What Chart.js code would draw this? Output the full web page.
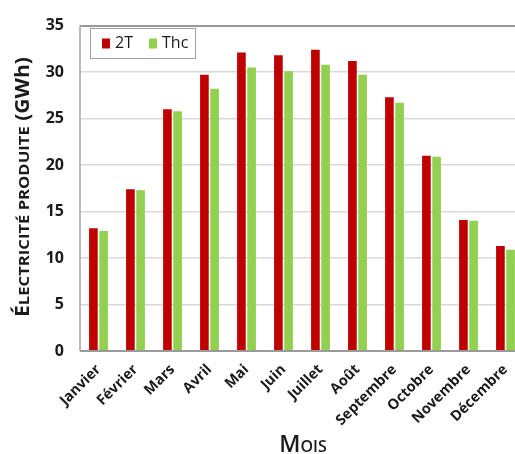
<!DOCTYPE html>
<html><head><meta charset="utf-8">
<script src="https://cdn.jsdelivr.net/npm/chart.js"></script>
<style>
html,body{margin:0;padding:0;background:#fff;}
#wrap{width:515px;height:454px;overflow:hidden;position:relative;background:#fff;}
canvas{display:block;}
</style>
</head><body>
<div id="wrap"><canvas id="c" width="530" height="454"></canvas></div>
<script>
const categories = ['Janvier','Février','Mars','Avril','Mai','Juin','Juillet','Août','Septembre','Octobre','Novembre','Décembre'];
const series2T  = [13.2, 17.4, 26.0, 29.7, 32.1, 31.8, 32.4, 31.2, 27.3, 21.0, 14.1, 11.3];
const seriesThc = [12.9, 17.3, 25.8, 28.2, 30.5, 30.1, 30.8, 29.7, 26.7, 20.9, 14.0, 10.9];
const seriesNames = ['2T', 'Thc'];
const yTickValues = [0, 5, 10, 15, 20, 25, 30, 35];

const FONT = '"Open Sans", Lato, sans-serif';

function drawParts(ctx, parts, startX, y, scaleX) {
  let px = startX;
  parts.forEach(p => {
    ctx.font = p[1];
    ctx.fillText(p[0], px, y);
    px += ctx.measureText(p[0]).width;
  });
}
function partsWidth(ctx, parts) {
  let t = 0;
  parts.forEach(p => { ctx.font = p[1]; t += ctx.measureText(p[0]).width; });
  return t;
}

const framePlugin = {
  id: 'frame',
  afterDraw(chart) {
    const ctx = chart.ctx;
    const a = chart.chartArea;
    ctx.save();
    ctx.strokeStyle = '#7f7f7f';
    ctx.lineWidth = 1.5;
    ctx.beginPath(); ctx.moveTo(a.left, a.top + 0.5); ctx.lineTo(a.right + 20, a.top + 0.5); ctx.stroke();
    ctx.strokeStyle = '#a6a6a6';
    ctx.lineWidth = 1.5;
    ctx.beginPath(); ctx.moveTo(a.left, a.top); ctx.lineTo(a.left, a.bottom); ctx.stroke();
    ctx.strokeStyle = '#9a9a9a';
    ctx.lineWidth = 2;
    ctx.beginPath(); ctx.moveTo(a.left, a.bottom); ctx.lineTo(a.right + 20, a.bottom); ctx.stroke();

    // legend
    const lx = 90, ly = 28, lw = 105, lh = 30;
    ctx.fillStyle = '#fff';
    ctx.fillRect(lx, ly, lw, lh);
    ctx.strokeStyle = '#a0a0a0';
    ctx.lineWidth = 1;
    ctx.strokeRect(lx + 0.5, ly + 0.5, lw, lh);
    ctx.font = '16px ' + FONT;
    ctx.textBaseline = 'middle';
    ctx.textAlign = 'left';
    const legendX = [102, 149];
    const cy = ly + lh / 2 + 0.5;
    chart.data.datasets.forEach((ds, i) => {
      const x = legendX[i];
      ctx.fillStyle = ds.backgroundColor;
      ctx.fillRect(x, cy - 5, 8, 10);
      ctx.fillStyle = '#1a1a1a';
      ctx.fillText(ds.label, x + 13, cy);
    });

    // y title (small caps style), fitted between y=57 and y=317
    const partsY = [['É', 'bold 19px ' + FONT], ['LECTRICITÉ PRODUITE', 'bold 15px ' + FONT], [' (GWh)', 'bold 19px ' + FONT]];
    ctx.save();
    ctx.fillStyle = '#1a1a1a';
    ctx.textBaseline = 'alphabetic';
    const totalY = partsWidth(ctx, partsY);
    const targetLen = 260;
    ctx.translate(29, 187);
    ctx.rotate(-Math.PI / 2);
    ctx.scale(targetLen / totalY, 1);
    drawParts(ctx, partsY, -totalY / 2, 0);
    ctx.restore();

    // x title
    const partsX = [['M', '600 23px ' + FONT], ['OIS', '600 16px ' + FONT]];
    ctx.save();
    ctx.textBaseline = 'alphabetic';
    ctx.fillStyle = '#1a1a1a';
    const totalX = partsWidth(ctx, partsX);
    drawParts(ctx, partsX, 303 - totalX / 2, 452);
    ctx.restore();
    ctx.restore();
  }
};

new Chart(document.getElementById('c'), {
  type: 'bar',
  data: {
    labels: categories,
    datasets: [
      { label: seriesNames[0], data: series2T, backgroundColor: '#C00000', borderWidth: 0 },
      { label: seriesNames[1], data: seriesThc, backgroundColor: '#92D050', borderWidth: 0 }
    ]
  },
  options: {
    responsive: false,
    animation: false,
    devicePixelRatio: 1,
    layout: { padding: { top: 21, right: 6, left: 0, bottom: 0 } },
    categoryPercentage: 0.55,
    barPercentage: 0.85,
    plugins: { legend: { display: false }, tooltip: { enabled: false }, title: { display: false } },
    scales: {
      x: {
        grid: { display: false, drawTicks: false },
        border: { display: false },
        ticks: {
          minRotation: 45, maxRotation: 45, autoSkip: false, padding: 10,
          color: '#1a1a1a', font: { family: FONT, size: 14.5, weight: 'bold' }
        },
        afterFit(scale) { scale.height = 103; }
      },
      y: {
        min: 0, max: 35,
        afterBuildTicks(scale) { scale.ticks = yTickValues.map(v => ({ value: v })); },
        grid: { color: '#d9d9d9', lineWidth: 1.5, drawTicks: false },
        border: { display: false },
        ticks: {
          padding: 16, color: '#1a1a1a',
          font: { family: FONT, size: 16, weight: 'bold' }
        },
        afterFit(scale) { scale.width = 80; }
      }
    }
  },
  plugins: [framePlugin]
});
</script>
</body></html>
